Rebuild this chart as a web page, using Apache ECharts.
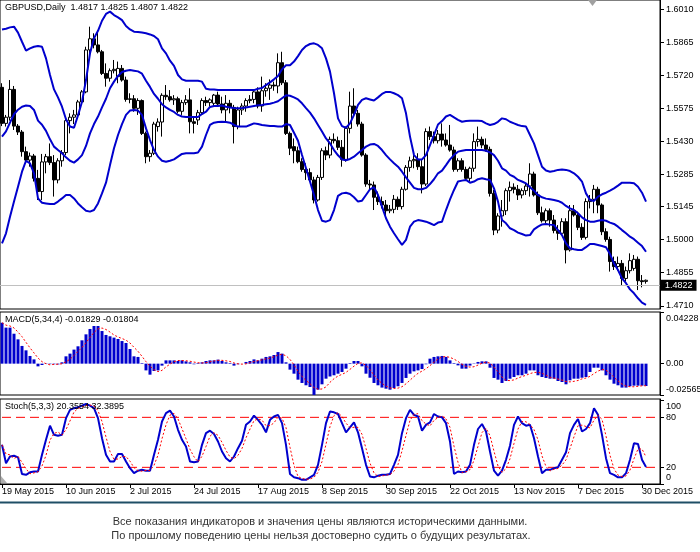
<!DOCTYPE html>
<html lang="ru">
<head>
<meta charset="UTF-8">
<title>GBPUSD Daily</title>
<script src="https://cdn.jsdelivr.net/npm/echarts@6/dist/echarts.min.js"></script>
<style>
html, body { margin: 0; padding: 0; background: #fff; }
#main { width: 700px; height: 552px; }
</style>
</head>
<body>
<div id="main"></div>
<script>
// daily bars 19 May 2015 .. 31 Dec 2015
var opens = [
  1.5668,1.5510,1.5537,1.5659,1.5498,1.5472,1.5386,1.5349,1.5367,1.5269,
  1.5211,1.5341,1.5364,1.5338,1.5262,1.5346,1.5382,1.5522,1.5537,1.5547,
  1.5604,1.5648,1.5832,1.5881,1.5854,1.5824,1.5729,1.5708,1.5741,1.5715,
  1.5751,1.5700,1.5615,1.5618,1.5576,1.5610,1.5466,1.5364,1.5379,1.5496,
  1.5516,1.5633,1.5627,1.5613,1.5618,1.5563,1.5601,1.5613,1.5517,1.5525,
  1.5557,1.5610,1.5601,1.5598,1.5634,1.5595,1.5569,1.5598,1.5580,1.5496,
  1.5569,1.5586,1.5610,1.5615,1.5648,1.5586,1.5653,1.5664,1.5678,1.5674,
  1.5776,1.5688,1.5466,1.5408,1.5390,1.5342,1.5308,1.5294,1.5262,1.5174,
  1.5273,1.5390,1.5371,1.5440,1.5434,1.5405,1.5352,1.5488,1.5586,1.5554,
  1.5507,1.5371,1.5244,1.5240,1.5186,1.5167,1.5152,1.5127,1.5133,1.5177,
  1.5145,1.5221,1.5317,1.5346,1.5352,1.5320,1.5244,1.5474,1.5452,1.5434,
  1.5463,1.5437,1.5415,1.5393,1.5308,1.5346,1.5308,1.5269,1.5313,1.5430,
  1.5440,1.5415,1.5396,1.5203,1.5042,1.5104,1.5127,1.5215,1.5230,1.5221,
  1.5196,1.5215,1.5235,1.5288,1.5196,1.5118,1.5083,1.5127,1.5086,1.5040,
  1.5028,1.5079,1.4955,1.5127,1.5108,1.5054,1.5010,1.5167,1.5177,1.5221,
  1.5152,1.5035,1.5001,1.4904,1.4882,1.4896,1.4830,1.4864,1.4874,1.4914,
  1.4820,1.4817
];
var highs = [
  1.5686,1.5547,1.5700,1.5674,1.5507,1.5481,1.5408,1.5382,1.5376,1.5306,
  1.5376,1.5376,1.5422,1.5371,1.5357,1.5393,1.5532,1.5554,1.5569,1.5613,
  1.5656,1.5846,1.5934,1.5905,1.5919,1.5832,1.5773,1.5751,1.5788,1.5781,
  1.5766,1.5715,1.5642,1.5634,1.5620,1.5615,1.5474,1.5393,1.5517,1.5532,
  1.5642,1.5678,1.5656,1.5634,1.5627,1.5613,1.5634,1.5664,1.5540,1.5569,
  1.5620,1.5627,1.5620,1.5639,1.5649,1.5627,1.5634,1.5613,1.5591,1.5583,
  1.5598,1.5620,1.5634,1.5656,1.5668,1.5715,1.5686,1.5703,1.5693,1.5817,
  1.5824,1.5700,1.5474,1.5444,1.5408,1.5357,1.5335,1.5313,1.5276,1.5284,
  1.5401,1.5408,1.5452,1.5466,1.5452,1.5437,1.5496,1.5649,1.5664,1.5569,
  1.5517,1.5379,1.5262,1.5255,1.5211,1.5189,1.5174,1.5152,1.5196,1.5189,
  1.5232,1.5327,1.5364,1.5371,1.5379,1.5349,1.5488,1.5496,1.5474,1.5481,
  1.5510,1.5466,1.5503,1.5408,1.5357,1.5357,1.5320,1.5320,1.5466,1.5496,
  1.5452,1.5444,1.5408,1.5218,1.5116,1.5174,1.5225,1.5255,1.5247,1.5240,
  1.5225,1.5247,1.5335,1.5298,1.5211,1.5145,1.5137,1.5137,1.5108,1.5064,
  1.5094,1.5094,1.5152,1.5152,1.5123,1.5072,1.5181,1.5196,1.5240,1.5232,
  1.5159,1.5050,1.5013,1.4926,1.4926,1.4911,1.4882,1.4940,1.4933,1.4926,
  1.4845,1.4825
];
var lows = [
  1.5498,1.5496,1.5522,1.5481,1.5459,1.5364,1.5335,1.5320,1.5255,1.5174,
  1.5174,1.5291,1.5327,1.5189,1.5247,1.5320,1.5371,1.5466,1.5507,1.5537,
  1.5591,1.5642,1.5817,1.5839,1.5817,1.5722,1.5671,1.5693,1.5729,1.5686,
  1.5693,1.5605,1.5598,1.5561,1.5547,1.5459,1.5335,1.5342,1.5371,1.5474,
  1.5452,1.5613,1.5605,1.5591,1.5554,1.5547,1.5591,1.5466,1.5466,1.5503,
  1.5547,1.5586,1.5583,1.5586,1.5583,1.5554,1.5517,1.5554,1.5422,1.5484,
  1.5547,1.5561,1.5598,1.5598,1.5576,1.5561,1.5627,1.5613,1.5653,1.5642,
  1.5678,1.5459,1.5371,1.5335,1.5335,1.5298,1.5262,1.5255,1.5159,1.5167,
  1.5262,1.5349,1.5357,1.5422,1.5393,1.5320,1.5342,1.5466,1.5540,1.5496,
  1.5364,1.5232,1.5218,1.5130,1.5152,1.5137,1.5108,1.5116,1.5116,1.5130,
  1.5133,1.5215,1.5298,1.5313,1.5306,1.5203,1.5235,1.5437,1.5422,1.5422,
  1.5408,1.5408,1.5386,1.5298,1.5298,1.5298,1.5262,1.5255,1.5298,1.5408,
  1.5401,1.5386,1.5189,1.5020,1.5028,1.5057,1.5108,1.5167,1.5203,1.5174,
  1.5181,1.5196,1.5189,1.5189,1.5108,1.5075,1.5072,1.5057,1.5028,1.4999,
  1.5020,1.4896,1.4948,1.5101,1.5042,1.4999,1.5001,1.5137,1.5116,1.5116,
  1.5020,1.4991,1.4860,1.4867,1.4864,1.4801,1.4816,1.4852,1.4864,1.4779,
  1.4791,1.4807
];
var closes = [
  1.5510,1.5537,1.5659,1.5498,1.5472,1.5386,1.5349,1.5367,1.5269,1.5211,
  1.5341,1.5364,1.5338,1.5262,1.5346,1.5382,1.5522,1.5537,1.5547,1.5604,
  1.5648,1.5832,1.5881,1.5854,1.5824,1.5729,1.5708,1.5741,1.5747,1.5751,
  1.5700,1.5615,1.5618,1.5576,1.5610,1.5466,1.5364,1.5379,1.5507,1.5516,
  1.5633,1.5627,1.5613,1.5618,1.5563,1.5601,1.5613,1.5517,1.5510,1.5557,
  1.5610,1.5601,1.5613,1.5634,1.5595,1.5569,1.5598,1.5580,1.5496,1.5569,
  1.5586,1.5610,1.5615,1.5648,1.5586,1.5653,1.5664,1.5678,1.5674,1.5776,
  1.5688,1.5466,1.5401,1.5390,1.5342,1.5308,1.5294,1.5262,1.5174,1.5273,
  1.5390,1.5371,1.5440,1.5434,1.5405,1.5352,1.5488,1.5586,1.5554,1.5507,
  1.5371,1.5244,1.5240,1.5186,1.5167,1.5152,1.5127,1.5133,1.5177,1.5145,
  1.5221,1.5317,1.5346,1.5352,1.5320,1.5244,1.5474,1.5452,1.5434,1.5463,
  1.5437,1.5415,1.5393,1.5308,1.5346,1.5308,1.5269,1.5313,1.5430,1.5440,
  1.5415,1.5396,1.5203,1.5042,1.5104,1.5127,1.5215,1.5230,1.5221,1.5196,
  1.5215,1.5235,1.5288,1.5196,1.5118,1.5083,1.5127,1.5086,1.5040,1.5028,
  1.5079,1.4955,1.5127,1.5108,1.5054,1.5010,1.5167,1.5177,1.5221,1.5152,
  1.5035,1.5001,1.4904,1.4882,1.4896,1.4830,1.4864,1.4908,1.4914,1.4820,
  1.4816,1.4822
];

// Bollinger bands as drawn
var bbUpper = [
  1.5922,1.5925,1.5931,1.5934,1.5908,1.5868,1.5829,1.5839,1.5846,1.5849,
  1.5846,1.5795,1.5722,1.5659,1.5624,1.5583,1.5528,1.5496,1.5491,1.5545,
  1.5605,1.5700,1.5817,1.5883,1.5916,1.5960,1.5990,1.6000,1.5985,1.5975,
  1.5963,1.5937,1.5922,1.5912,1.5911,1.5908,1.5905,1.5900,1.5893,1.5879,
  1.5839,1.5817,1.5785,1.5762,1.5722,1.5703,1.5697,1.5697,1.5697,1.5697,
  1.5693,1.5662,1.5659,1.5659,1.5656,1.5656,1.5656,1.5656,1.5656,1.5656,
  1.5656,1.5656,1.5656,1.5656,1.5662,1.5665,1.5678,1.5690,1.5703,1.5718,
  1.5747,1.5765,1.5765,1.5781,1.5805,1.5832,1.5849,1.5858,1.5861,1.5854,
  1.5839,1.5795,1.5737,1.5642,1.5532,1.5498,1.5491,1.5510,1.5547,1.5591,
  1.5613,1.5620,1.5615,1.5610,1.5624,1.5639,1.5648,1.5648,1.5642,1.5634,
  1.5620,1.5554,1.5452,1.5371,1.5352,1.5352,1.5371,1.5415,1.5459,1.5505,
  1.5520,1.5540,1.5547,1.5536,1.5525,1.5517,1.5520,1.5522,1.5522,1.5522,
  1.5520,1.5510,1.5503,1.5507,1.5517,1.5532,1.5528,1.5517,1.5510,1.5503,
  1.5498,1.5496,1.5459,1.5422,1.5371,1.5320,1.5303,1.5298,1.5301,1.5306,
  1.5308,1.5306,1.5301,1.5291,1.5276,1.5255,1.5203,1.5174,1.5170,1.5189,
  1.5199,1.5206,1.5215,1.5225,1.5237,1.5250,1.5250,1.5250,1.5247,1.5232,
  1.5206,1.5167
];
var bbMiddle = [
  1.5452,1.5475,1.5513,1.5550,1.5570,1.5583,1.5588,1.5586,1.5569,1.5522,
  1.5504,1.5477,1.5440,1.5408,1.5393,1.5379,1.5361,1.5346,1.5338,1.5352,
  1.5371,1.5411,1.5466,1.5507,1.5540,1.5580,1.5618,1.5664,1.5693,1.5718,
  1.5735,1.5741,1.5744,1.5741,1.5738,1.5728,1.5697,1.5670,1.5639,1.5618,
  1.5594,1.5580,1.5569,1.5560,1.5547,1.5540,1.5538,1.5538,1.5538,1.5538,
  1.5551,1.5561,1.5582,1.5586,1.5586,1.5588,1.5583,1.5580,1.5577,1.5576,
  1.5577,1.5580,1.5583,1.5586,1.5589,1.5591,1.5594,1.5596,1.5601,1.5607,
  1.5620,1.5633,1.5631,1.5624,1.5615,1.5598,1.5577,1.5557,1.5532,1.5503,
  1.5474,1.5444,1.5422,1.5393,1.5370,1.5352,1.5348,1.5354,1.5364,1.5379,
  1.5393,1.5408,1.5417,1.5420,1.5411,1.5393,1.5371,1.5352,1.5335,1.5320,
  1.5298,1.5273,1.5250,1.5227,1.5221,1.5221,1.5227,1.5244,1.5265,1.5291,
  1.5303,1.5327,1.5352,1.5371,1.5386,1.5390,1.5393,1.5393,1.5393,1.5393,
  1.5393,1.5390,1.5383,1.5371,1.5346,1.5313,1.5303,1.5284,1.5276,1.5262,
  1.5255,1.5247,1.5230,1.5215,1.5196,1.5186,1.5180,1.5177,1.5174,1.5170,
  1.5162,1.5148,1.5137,1.5130,1.5116,1.5098,1.5086,1.5079,1.5079,1.5083,
  1.5086,1.5083,1.5075,1.5069,1.5057,1.5042,1.5028,1.5013,1.5002,1.4987,
  1.4972,1.4947
];
var bbLower = [
  1.4984,1.5028,1.5101,1.5167,1.5232,1.5298,1.5346,1.5335,1.5291,1.5181,
  1.5162,1.5159,1.5156,1.5156,1.5167,1.5181,1.5196,1.5196,1.5181,1.5159,
  1.5142,1.5127,1.5123,1.5130,1.5159,1.5203,1.5250,1.5327,1.5401,1.5459,
  1.5507,1.5547,1.5566,1.5569,1.5566,1.5547,1.5488,1.5437,1.5393,1.5364,
  1.5346,1.5342,1.5346,1.5352,1.5364,1.5376,1.5379,1.5379,1.5379,1.5382,
  1.5408,1.5459,1.5503,1.5513,1.5516,1.5517,1.5516,1.5513,1.5503,1.5496,
  1.5496,1.5496,1.5503,1.5510,1.5507,1.5503,1.5501,1.5498,1.5498,1.5496,
  1.5496,1.5507,1.5503,1.5469,1.5434,1.5371,1.5313,1.5255,1.5196,1.5130,
  1.5083,1.5079,1.5086,1.5130,1.5192,1.5203,1.5206,1.5200,1.5186,1.5167,
  1.5171,1.5196,1.5221,1.5230,1.5196,1.5145,1.5094,1.5057,1.5028,1.5002,
  1.4977,1.4999,1.5057,1.5079,1.5086,1.5083,1.5079,1.5072,1.5064,1.5075,
  1.5079,1.5130,1.5177,1.5218,1.5255,1.5259,1.5262,1.5250,1.5255,1.5265,
  1.5269,1.5265,1.5262,1.5225,1.5167,1.5086,1.5072,1.5050,1.5042,1.5031,
  1.5025,1.5018,1.5020,1.5045,1.5057,1.5067,1.5069,1.5066,1.5064,1.5042,
  1.5020,1.4984,1.4962,1.4958,1.4955,1.4955,1.4967,1.4981,1.4981,1.4977,
  1.4972,1.4967,1.4937,1.4896,1.4867,1.4830,1.4809,1.4782,1.4765,1.4743,
  1.4724,1.4714
];

// MACD(5,34,4) main histogram
var macdMain = [
  0.0335,0.0295,0.0295,0.0245,0.0199,0.0145,0.0109,0.0063,0.0035,-0.0022,
  -0.0011,-0.0003,-0.0004,-0.0005,-0.0006,0.0011,0.0060,0.0082,0.0115,0.0142,
  0.0191,0.0240,0.0284,0.0308,0.0308,0.0267,0.0235,0.0224,0.0213,0.0202,
  0.0185,0.0169,0.0120,0.0060,0.0055,0.0005,-0.0055,-0.0090,-0.0060,-0.0055,
  -0.0016,0.0027,0.0027,0.0027,0.0022,0.0027,0.0019,0.0011,-0.0005,0.0005,
  0.0011,0.0022,0.0027,0.0027,0.0033,0.0022,0.0011,0.0005,-0.0016,-0.0005,
  0.0000,0.0014,0.0022,0.0035,0.0027,0.0041,0.0055,0.0060,0.0071,0.0095,
  0.0082,0.0011,-0.0049,-0.0082,-0.0131,-0.0158,-0.0177,-0.0191,-0.0256,-0.0213,
  -0.0169,-0.0123,-0.0105,-0.0095,-0.0082,-0.0068,-0.0041,0.0005,0.0022,0.0022,
  -0.0022,-0.0082,-0.0115,-0.0158,-0.0177,-0.0196,-0.0205,-0.0213,-0.0199,-0.0185,
  -0.0158,-0.0117,-0.0082,-0.0063,-0.0055,-0.0044,-0.0005,0.0041,0.0055,0.0060,
  0.0063,0.0055,0.0027,0.0005,-0.0014,-0.0041,-0.0041,-0.0016,-0.0003,0.0014,
  0.0019,0.0019,-0.0033,-0.0117,-0.0131,-0.0158,-0.0142,-0.0123,-0.0109,-0.0095,
  -0.0095,-0.0082,-0.0055,-0.0055,-0.0095,-0.0109,-0.0117,-0.0123,-0.0123,-0.0142,
  -0.0150,-0.0169,-0.0136,-0.0123,-0.0123,-0.0115,-0.0109,-0.0068,-0.0033,-0.0033,
  -0.0055,-0.0095,-0.0131,-0.0164,-0.0177,-0.0196,-0.0196,-0.0185,-0.0180,-0.0180,
  -0.0180,-0.01829
];

// Stochastic(5,3,3) main line
var stochMain = [
  47,25,33,34,32,12,11,14,15,15,
  35,53,70,59,58,59,79,89,91,92,
  94,96,94,91,79,55,35,27,27,36,
  36,27,19,13,16,17,16,16,35,53,
  75,85,88,81,65,53,45,27,26,27,
  47,61,64,60,51,39,31,27,33,43,
  52,71,75,82,77,71,62,77,81,83,
  73,47,12,8,7,5,5,8,11,23,
  47,73,87,86,84,73,62,68,74,62,
  43,23,9,8,10,11,11,12,23,35,
  61,79,89,83,81,64,71,74,84,81,
  80,73,51,12,15,14,15,23,47,66,
  72,63,39,16,10,16,29,46,71,81,
  73,70,71,55,33,13,17,17,19,20,
  29,38,61,71,78,63,66,73,91,83,
  59,31,13,11,8,8,13,29,49,48,
  29,20.3554
];

var priceTicks = [1.6010, 1.5865, 1.5720, 1.5575, 1.5430, 1.5285, 1.5145, 1.5000, 1.4855, 1.4710];
var macdTicks = [0.04228, 0, -0.02565];
var stochTicks = [100, 80, 20, 0];
var stochLevels = [80, 20];
var dateTicks = ['19 May 2015', '10 Jun 2015', '2 Jul 2015', '24 Jul 2015', '17 Aug 2015', '8 Sep 2015',
                 '30 Sep 2015', '22 Oct 2015', '13 Nov 2015', '7 Dec 2015', '30 Dec 2015'];
var dateEvery = 16;
var slots = 165;   // bars plus the empty shift on the right

var headerText = 'GBPUSD,Daily  1.4817 1.4825 1.4807 1.4822';
var macdText = 'MACD(5,34,4) -0.01829 -0.01804';
var stochText = 'Stoch(5,3,3) 20.3554 32.3895';
var footer1 = 'Все показания индикаторов и значения цены являются историческими данными.';
var footer2 = 'По прошлому поведению цены нельзя достоверно судить о будущих результатах.';

var FONT = '"Liberation Sans", Arial, sans-serif';
var BLUE = '#0000cd';
var RED = '#ff0000';

function sma(arr, n) {
    return arr.map(function (v, i) {
        var part = arr.slice(Math.max(0, i - n + 1), i + 1);
        var s = 0;
        part.forEach(function (x) { s += x; });
        return +(s / part.length).toFixed(5);
    });
}

var cats = [];
for (var i = 0; i < slots; i++) cats.push(i);
var candles = opens.map(function (o, i) { return [o, closes[i], lows[i], highs[i]]; });
var macdSignal = sma(macdMain, 4);
var stochSignal = sma(stochMain, 3);
var bid = closes[closes.length - 1];

function showDate(idx) { return idx % dateEvery === 0 && idx / dateEvery < dateTicks.length; }

function hiddenX(g) {
    return { type: 'category', gridIndex: g, data: cats, boundaryGap: true, show: false };
}

// horizontal 80 / 20 levels of the stochastic window
var levelSeries = stochLevels.map(function (lv) {
    return {
        type: 'line', name: 'level ' + lv, xAxisIndex: 2, yAxisIndex: 2, z: 1,
        data: cats.map(function () { return lv; }),
        symbol: 'none', silent: true,
        lineStyle: { color: RED, width: 1, type: [9, 5] }
    };
});

var chart = echarts.init(document.getElementById('main'));
chart.setOption({
    animation: false,
    backgroundColor: '#fff',
    textStyle: { fontFamily: FONT },
    grid: [
        { left: 0, top: 0, width: 660, height: 309, show: true, borderColor: '#000', borderWidth: 1, outerBoundsMode: 'none' },
        { left: 0, top: 312, width: 660, height: 83, show: true, borderColor: '#000', borderWidth: 1, outerBoundsMode: 'none' },
        { left: 0, top: 399, width: 660, height: 85, show: true, borderColor: '#000', borderWidth: 1, outerBoundsMode: 'none' }
    ],
    xAxis: [
        hiddenX(0),
        hiddenX(1),
        {
            type: 'category', gridIndex: 2, data: cats, boundaryGap: true,
            axisLine: { show: true, lineStyle: { color: '#000', width: 1 } },
            axisTick: { show: true, alignWithLabel: true, interval: showDate, length: 4, lineStyle: { color: '#000' } },
            axisLabel: {
                show: true, interval: showDate, align: 'left', margin: 3,
                fontSize: 9, color: '#000', fontFamily: FONT,
                formatter: function (v, idx) { return dateTicks[idx / dateEvery]; }
            },
            splitLine: { show: false }
        }
    ],
    yAxis: [
        {
            type: 'value', gridIndex: 0, position: 'right', min: 1.4696, max: 1.6051,
            axisLine: { show: true, lineStyle: { color: '#000' } },
            axisTick: { show: true, customValues: priceTicks, length: 4, lineStyle: { color: '#000' } },
            axisLabel: {
                customValues: priceTicks, margin: 6, fontSize: 9, color: '#000', fontFamily: FONT,
                formatter: function (v) { return v.toFixed(4); }
            },
            splitLine: { show: false }
        },
        {
            type: 'value', gridIndex: 1, position: 'right', min: -0.02565, max: 0.04228,
            axisLine: { show: true, lineStyle: { color: '#000' } },
            axisTick: { show: true, customValues: macdTicks, length: 4, lineStyle: { color: '#000' } },
            axisLabel: {
                customValues: macdTicks, margin: 6, fontSize: 9, color: '#000', fontFamily: FONT,
                formatter: function (v) {
                    if (v > 0) return '{t|' + v.toFixed(5) + '}';
                    if (v < 0) return '{b|' + v.toFixed(5) + '}';
                    return '0.00';
                },
                rich: {
                    t: { padding: [14, 0, 0, 0], fontSize: 9, color: '#000', fontFamily: FONT },
                    b: { padding: [0, 0, 10, 0], fontSize: 9, color: '#000', fontFamily: FONT }
                }
            },
            splitLine: { show: false }
        },
        {
            type: 'value', gridIndex: 2, position: 'right', min: 0, max: 102,
            axisLine: { show: true, lineStyle: { color: '#000' } },
            axisTick: { show: true, customValues: stochTicks, length: 4, lineStyle: { color: '#000' } },
            axisLabel: {
                customValues: stochTicks, margin: 6, fontSize: 9, color: '#000', fontFamily: FONT,
                formatter: function (v) {
                    if (v === 100) return '{t|100}';
                    if (v === 0) return '{b|0}';
                    return String(v);
                },
                rich: {
                    t: { padding: [12, 0, 0, 0], fontSize: 9, color: '#000', fontFamily: FONT },
                    b: { padding: [0, 0, 12, 0], fontSize: 9, color: '#000', fontFamily: FONT }
                }
            },
            splitLine: { show: false }
        }
    ],
    series: [
        {
            type: 'candlestick', name: 'GBPUSD', xAxisIndex: 0, yAxisIndex: 0,
            data: candles, barWidth: 3,
            itemStyle: { color: '#fff', color0: '#000', borderColor: '#000', borderColor0: '#000', borderWidth: 1 },
            markLine: {
                silent: true, symbol: 'none', animation: false,
                lineStyle: { color: '#c0c0c0', width: 1, type: 'solid' },
                label: {
                    show: true, position: 'end', distance: 1,
                    formatter: bid.toFixed(4), color: '#fff', backgroundColor: '#000',
                    padding: [1, 4, 1, 4], fontSize: 9, fontFamily: FONT
                },
                data: [{ yAxis: bid }]
            }
        },
        { type: 'line', name: 'upper', xAxisIndex: 0, yAxisIndex: 0, data: bbUpper, symbol: 'none', lineStyle: { color: BLUE, width: 2 } },
        { type: 'line', name: 'middle', xAxisIndex: 0, yAxisIndex: 0, data: bbMiddle, symbol: 'none', lineStyle: { color: BLUE, width: 2 } },
        { type: 'line', name: 'lower', xAxisIndex: 0, yAxisIndex: 0, data: bbLower, symbol: 'none', lineStyle: { color: BLUE, width: 2 } },
        {
            type: 'bar', name: 'MACD', xAxisIndex: 1, yAxisIndex: 1, data: macdMain,
            barWidth: 3, itemStyle: { color: BLUE }
        },
        {
            type: 'line', name: 'Signal', xAxisIndex: 1, yAxisIndex: 1, data: macdSignal,
            symbol: 'none', lineStyle: { color: RED, width: 1, type: [2, 2] }
        }
    ].concat(levelSeries, [
        {
            type: 'line', name: 'Stoch', xAxisIndex: 2, yAxisIndex: 2, data: stochMain,
            symbol: 'none', lineStyle: { color: BLUE, width: 2 }
        },
        {
            type: 'line', name: 'StochSignal', xAxisIndex: 2, yAxisIndex: 2, data: stochSignal,
            symbol: 'none', lineStyle: { color: RED, width: 1, type: [2, 2] }
        }
    ]),
    graphic: [
        { type: 'text', left: 5, top: 3, z: 100, style: { text: headerText, fontSize: 9, fontFamily: FONT, fill: '#000' } },
        { type: 'text', left: 5, top: 315, z: 100, style: { text: macdText, fontSize: 9, fontFamily: FONT, fill: '#000' } },
        { type: 'text', left: 5, top: 402, z: 100, style: { text: stochText, fontSize: 9, fontFamily: FONT, fill: '#000' } },
        { type: 'polygon', z: 100, shape: { points: [[588, 0], [597, 0], [592.5, 6]] }, style: { fill: '#a0a0a0' } },
        { type: 'polygon', z: 100, shape: { points: [[1, 476], [1, 483], [7, 483]] }, style: { fill: '#b0b0b0' } },
        { type: 'line', z: 100, shape: { x1: 0, y1: 502.5, x2: 700, y2: 502.5 }, style: { stroke: '#1f4e66', lineWidth: 2 } },
        { type: 'text', z: 100, x: 320, y: 522, style: { text: footer1, align: 'center', verticalAlign: 'middle', fontSize: 11, fontFamily: FONT, fill: '#333' } },
        { type: 'text', z: 100, x: 321, y: 536, style: { text: footer2, align: 'center', verticalAlign: 'middle', fontSize: 11, fontFamily: FONT, fill: '#333' } }
    ]
});
</script>
</body>
</html>
